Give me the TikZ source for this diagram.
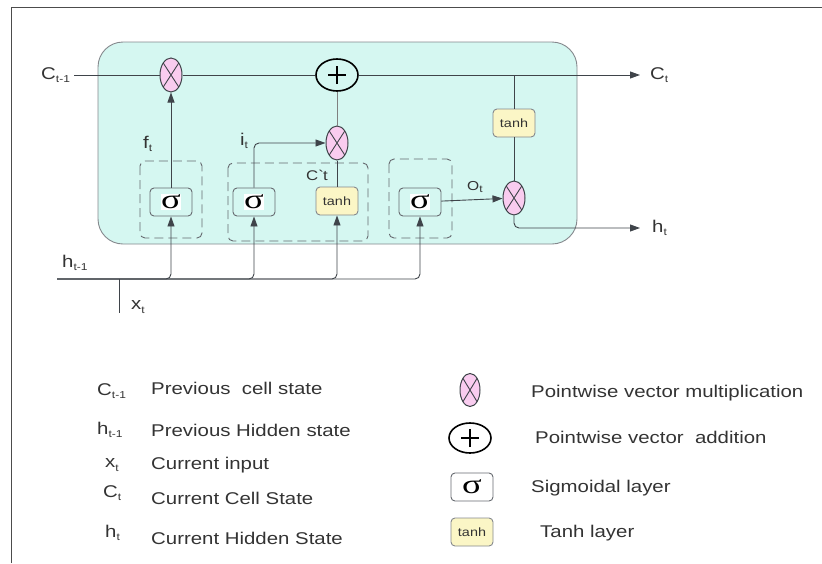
\documentclass[tikz,border=0pt]{standalone}
\usepackage{fontspec}
\setmainfont{Liberation Sans}[FakeStretch=1.2]
\newfontfamily\sgfont{Liberation Serif}
\usetikzlibrary{shapes.geometric,arrows.meta}

\definecolor{cellfill}{HTML}{D5F7F1}
\definecolor{multfill}{HTML}{F9CCEF}
\definecolor{tanhfill}{HTML}{FBF6C6}
\definecolor{linecol}{HTML}{3F444A}
\definecolor{textcol}{HTML}{333333}
\definecolor{boxline}{HTML}{666A70}

% subscript as in the drawing
\newcommand{\sbs}[1]{\raisebox{-0.35ex}{\fontsize{10}{10}\selectfont #1}}
\newcommand{\sgm}{{\setlength{\fboxsep}{0.5pt}\colorbox{white}{\sgfont\fontsize{27}{27}\selectfont\scalebox{1.35}[1]{σ}}}}

\tikzset{
  cellbox/.style={draw=boxline!80,fill=cellfill,rounded corners=25pt,line width=0.9pt},
  gatebox/.style={draw=boxline,line width=0.9pt,dash pattern=on 9pt off 5pt,rounded corners=5pt},
  mult/.style={ellipse,draw=linecol,fill=multfill,line width=1pt,inner sep=0pt,
    minimum width=22pt,minimum height=34pt,
    path picture={\draw[linecol,line width=0.9pt]
      (path picture bounding box.north west) -- (path picture bounding box.south east)
      (path picture bounding box.north east) -- (path picture bounding box.south west);}},
  plus/.style={ellipse,draw=black,line width=1.6pt,inner sep=0pt,
    minimum width=42pt,minimum height=32pt,
    path picture={\draw[black,line width=1.5pt]
      ([xshift=-9pt]path picture bounding box.center) -- ([xshift=9pt]path picture bounding box.center)
      ([yshift=-9pt]path picture bounding box.center) -- ([yshift=9pt]path picture bounding box.center);}},
  sigbox/.style={draw=boxline,rounded corners=4pt,line width=0.9pt,
    minimum width=42pt,minimum height=28pt,inner sep=0pt},
  tanhbox/.style={draw=boxline!80,fill=tanhfill,rounded corners=4pt,line width=0.9pt,
    minimum width=42pt,minimum height=28pt,inner sep=0pt,
    font=\fontsize{12}{12}\selectfont,text=textcol},
  lab/.style={inner sep=0pt,text=textcol,font=\fontsize{17}{17}\selectfont},
  link/.style={draw=linecol,line width=0.9pt},
  arr/.style={link,-{Triangle[length=10pt,width=7pt]}}
}

\begin{document}
\begin{tikzpicture}[x=1pt,y=-1pt]
  \useasboundingbox (0,0) rectangle (822,563);
  \draw[gray!60!black,line width=1pt] (11,563) -- (11,7) -- (822,7);

  % the cell
  \draw[cellbox] (98,42) rectangle (577,244);
  \draw[gatebox] (140,161) rectangle (202,238);
  \draw[gatebox] (228,163) rectangle (368,241);
  \draw[gatebox] (389,159) rectangle (452,238);

  \node[mult] (multf) at (171,75) {};
  \node[plus] (plus) at (337,75) {};
  \node[mult] (multi) at (337,143) {};
  \node[mult] (multo) at (514,198) {};
  \node[sigbox] (sigf) at (171,202) {\sgm};
  \node[sigbox] (sigi) at (254,202) {\sgm};
  \node[tanhbox] (tanhc) at (337,201) {tanh};
  \node[sigbox] (sigo) at (420,202) {\sgm};
  \node[tanhbox] (tanho) at (514,123) {tanh};
  \coordinate (tap) at (514,75);

  \node[lab,anchor=west] (cprev) at (41,75) {C\sbs{t-1}};
  \node[lab,anchor=west] (ct) at (650,75) {C\sbs{t}};
  \node[lab,anchor=west] (ht) at (652,228) {h\sbs{t}};
  \node[lab,anchor=west] (hprev) at (62,263) {h\sbs{t-1}};
  \node[lab,anchor=west] (xt) at (131,307) {x\sbs{t}};
  \node[lab,anchor=west] (ft) at (143,144) {f\sbs{t}};
  \node[lab,anchor=west] (it) at (240,141) {i\sbs{t}};
  \node[lab,anchor=west,font=\fontsize{14}{14}\selectfont] (cbar) at (306,175) {C\textasciigrave t};
  \node[lab,anchor=west,font=\fontsize{13}{13}\selectfont] (ot) at (467,187) {O\sbs{t}};

  \coordinate (hstart) at (57,279);
  \coordinate (xjoin) at (119,279);
  \coordinate (xend) at (119,313);

  \draw[link] ([xshift=4pt]cprev.east) -- (multf);
  \draw[link] (multf) -- (plus);
  \draw[arr] (plus) -- ([xshift=-10pt]ct.west);
  \draw[arr] (sigf) -- (multf);
  \draw[arr,rounded corners=5pt] (sigi.north) |- (multi.west);
  \draw[link] (tanhc) -- (multi);
  \draw[link,draw=gray] (multi) -- (plus);
  \draw[arr] (sigo) -- (multo);
  \draw[link] (tap) -- (tanho);
  \draw[link] (tanho) -- (multo);
  \draw[arr,rounded corners=5pt] (multo.south) |- ([xshift=-12pt]ht.west);

  \foreach \g in {sigf,sigi,tanhc,sigo}
    \draw[arr,rounded corners=5pt] (hstart) -| (\g.south);
  \draw[link] (xjoin) -- (xend);

  % legend
  \node[lab,anchor=west] (lc1) at (97,391) {C\sbs{t-1}};
  \node[lab,anchor=west] (lc1t) at (151,388) {Previous~ cell state};
  \node[lab,anchor=west] (lh1) at (97,430) {h\sbs{t-1}};
  \node[lab,anchor=west] (lh1t) at (151,430) {Previous Hidden state};
  \node[lab,anchor=west] (lx) at (105,465) {x\sbs{t}};
  \node[lab,anchor=west] (lxt) at (151,465) {Current input};
  \node[lab,anchor=west] (lc) at (103,493) {C\sbs{t}};
  \node[lab,anchor=west] (lct) at (151,498) {Current Cell State};
  \node[lab,anchor=west] (lh) at (105,533) {h\sbs{t}};
  \node[lab,anchor=west] (lht) at (151,538) {Current Hidden State};

  \node[mult,minimum width=20pt,minimum height=33pt] (lmult) at (470,390) {};
  \node[plus,minimum height=30pt] (lplus) at (470,438) {};
  \node[sigbox,fill=white] (lsig) at (472,487) {\sgm};
  \node[tanhbox] (ltanh) at (472,532) {tanh};
  \node[lab,anchor=west] (lmultt) at (531,393) {Pointwise vector multiplication};
  \node[lab,anchor=west] (lplust) at (535,437) {Pointwise vector~ addition};
  \node[lab,anchor=west] (lsigt) at (531,488) {Sigmoidal layer};
  \node[lab,anchor=west] (ltanht) at (540,533) {Tanh layer};
\end{tikzpicture}
\end{document}
